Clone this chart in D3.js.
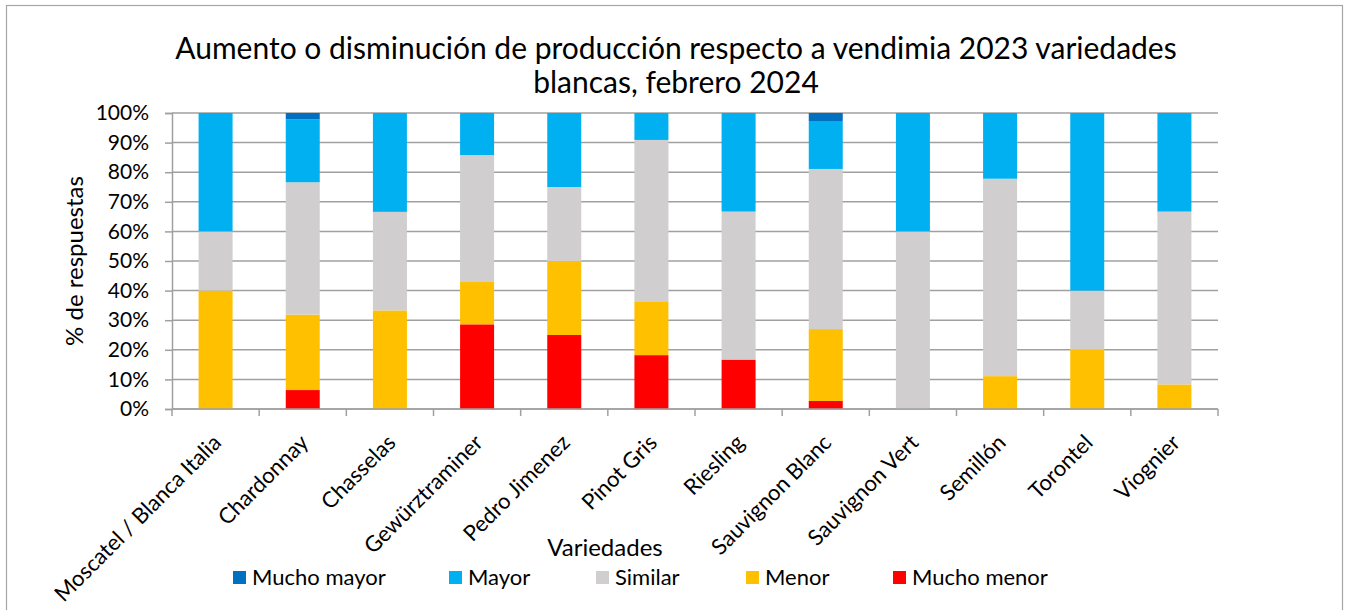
<!DOCTYPE html>
<html>
<head>
<meta charset="utf-8">
<script src="https://cdn.jsdelivr.net/npm/d3@7"></script>
<style>
  body { margin: 0; background: #fff; }
  text { font-family: Lato, "Noto Sans", sans-serif; fill: #000; }
</style>
</head>
<body>
<svg id="chart" width="1346" height="610"></svg>
<script>
// categories (x axis)
var variedades = ["Moscatel / Blanca Italia", "Chardonnay", "Chasselas", "Gewürztraminer",
  "Pedro Jimenez", "Pinot Gris", "Riesling", "Sauvignon Blanc", "Sauvignon Vert",
  "Semillón", "Torontel", "Viognier"];

// % of answers per series, bottom to top
var muchoMenor  = [0, 6.4, 0, 28.6, 25, 18.2, 16.7, 2.7, 0, 0, 0, 0];
var menor       = [40, 25.5, 33.3, 14.3, 25, 18.2, 0, 24.3, 0, 11.1, 20, 8.3];
var similar     = [20, 44.7, 33.3, 42.9, 25, 54.5, 50, 54.1, 60, 66.7, 20, 58.4];
var mayor       = [40, 21.3, 33.4, 14.2, 25, 9.1, 33.3, 16.2, 40, 22.2, 60, 33.3];
var muchoMayor  = [0, 2.1, 0, 0, 0, 0, 0, 2.7, 0, 0, 0, 0];

var yTicks = [0, 10, 20, 30, 40, 50, 60, 70, 80, 90, 100];

var series = [
  {name: "Mucho menor", values: muchoMenor, color: "#FF0000"},
  {name: "Menor", values: menor, color: "#FFC000"},
  {name: "Similar", values: similar, color: "#D0CECE"},
  {name: "Mayor", values: mayor, color: "#00B0F0"},
  {name: "Mucho mayor", values: muchoMayor, color: "#0070C0"}
];

var svg = d3.select("#chart");

// chart area border
svg.append("rect")
  .attr("x", 6.5).attr("y", 5.5)
  .attr("width", 1336).attr("height", 612)
  .attr("fill", "none").attr("stroke", "#a6a6a6").attr("stroke-width", 1.2);

var margin = {left: 172, right: 1218, top: 113, bottom: 409};

var x = d3.scaleBand().domain(variedades)
  .range([margin.left, margin.right]).paddingInner(0.61).paddingOuter(0.305);
var y = d3.scaleLinear().domain([0, 100]).range([margin.bottom, margin.top]);

// gridlines
svg.append("g").selectAll("line").data(yTicks).join("line")
  .attr("x1", margin.left).attr("x2", margin.right)
  .attr("y1", d => y(d)).attr("y2", d => y(d))
  .attr("stroke", "#a0a0a0").attr("stroke-width", 1.5);

// stacked bars
var rows = variedades.map(function(v, i) {
  var r = {variedad: v};
  series.forEach(s => r[s.name] = s.values[i]);
  return r;
});
var stack = d3.stack().keys(series.map(s => s.name))(rows);

svg.append("g").selectAll("g").data(stack).join("g")
  .attr("fill", (d, i) => series[i].color)
  .selectAll("rect").data(d => d).join("rect")
  .attr("x", d => x(d.data.variedad))
  .attr("width", x.bandwidth())
  .attr("y", d => y(d[1]))
  .attr("height", d => y(d[0]) - y(d[1]));

// y axis
var yAxis = svg.append("g")
  .attr("transform", "translate(" + margin.left + ",0)")
  .call(d3.axisLeft(y).tickValues(yTicks).tickFormat(d => d + "%").tickSize(7).tickPadding(16));
yAxis.select(".domain").attr("stroke", "#a0a0a0").attr("stroke-width", 1.5);
yAxis.selectAll(".tick line").attr("stroke", "#a0a0a0").attr("stroke-width", 1.5);
yAxis.selectAll("text").style("font-size", "21px").style("font-family", "Lato");

// x axis: ticks at band boundaries
var xAxis = svg.append("g");
xAxis.append("line")
  .attr("x1", margin.left).attr("x2", margin.right)
  .attr("y1", margin.bottom).attr("y2", margin.bottom)
  .attr("stroke", "#a0a0a0").attr("stroke-width", 1.5);
var step = x.step();
xAxis.selectAll(".xt").data(d3.range(variedades.length + 1)).join("line")
  .attr("class", "xt")
  .attr("x1", i => margin.left + i * step).attr("x2", i => margin.left + i * step)
  .attr("y1", margin.bottom).attr("y2", margin.bottom + 7)
  .attr("stroke", "#a0a0a0").attr("stroke-width", 1.5);

xAxis.selectAll(".xl").data(variedades).join("text")
  .attr("class", "xl")
  .attr("text-anchor", "end")
  .style("font-size", "22px")
  .attr("transform", d => "translate(" + (x(d) + x.bandwidth() / 2 + 7) + "," + (margin.bottom + 35) + ") rotate(-45)")
  .text(d => d);

// title
var title = svg.append("text").attr("text-anchor", "middle").style("font-size", "30px");
title.append("tspan").attr("x", 676).attr("y", 59).text("Aumento o disminución de producción respecto a vendimia 2023 variedades");
title.append("tspan").attr("x", 676).attr("y", 93).text("blancas, febrero 2024");

// axis titles
svg.append("text")
  .attr("text-anchor", "middle")
  .attr("transform", "translate(83,261) rotate(-90)")
  .style("font-size", "24px")
  .text("% de respuestas");

svg.append("text")
  .attr("text-anchor", "middle")
  .attr("x", 605).attr("y", 556)
  .style("font-size", "24px")
  .text("Variedades");

// legend
var legendItems = [
  {name: "Mucho mayor", color: "#0070C0", x: 233},
  {name: "Mayor", color: "#00B0F0", x: 449},
  {name: "Similar", color: "#D0CECE", x: 596},
  {name: "Menor", color: "#FFC000", x: 746},
  {name: "Mucho menor", color: "#FF0000", x: 893}
];
var lg = svg.append("g").selectAll("g").data(legendItems).join("g")
  .attr("transform", d => "translate(" + d.x + ",571)");
lg.append("rect").attr("width", 13).attr("height", 13).attr("fill", d => d.color);
lg.append("text").attr("x", 19).attr("y", 14).style("font-size", "22px").text(d => d.name);
</script>
</body>
</html>
